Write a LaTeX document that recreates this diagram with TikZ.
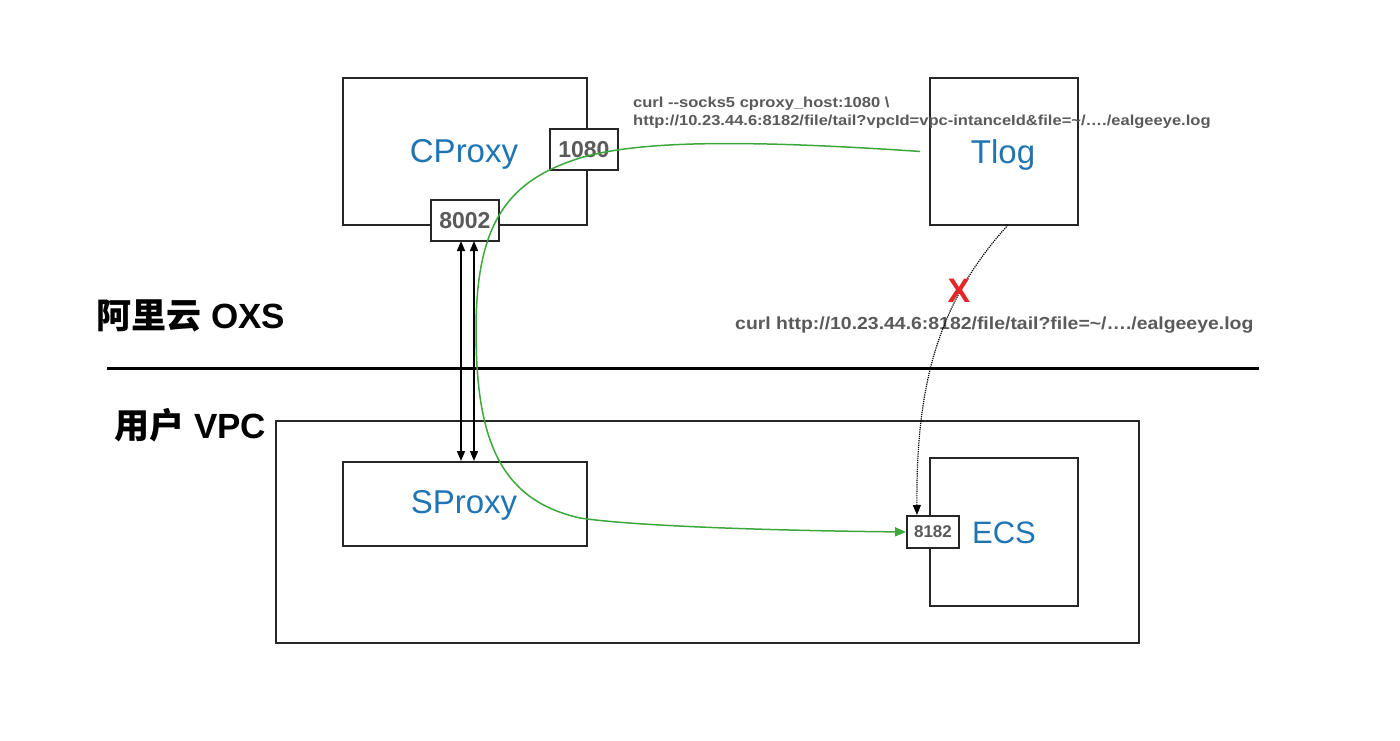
\documentclass[tikz,border=0pt]{standalone}
\usepackage{fontspec}
\setmainfont{Liberation Sans}
\newfontfamily\cjk{Noto Sans CJK SC}
\newfontfamily\cmdfonta{Liberation Sans}[FakeStretch=1.14]
\newfontfamily\cmdfontb{Liberation Sans}[FakeStretch=1.11]
\usetikzlibrary{arrows.meta}
\definecolor{lblblue}{HTML}{1F74B4}
\definecolor{txtgray}{HTML}{5A5A5A}
\definecolor{flowgreen}{HTML}{3CA83C}
\definecolor{xred}{HTML}{E32626}
\begin{document}
\begin{tikzpicture}[x=1pt,y=-1pt,
  >={Triangle[length=10pt,width=8pt]},
  boxstyle/.style={draw=black!85,line width=1.9pt,fill=none},
  portbox/.style={draw=black!85,line width=1.9pt,fill=white,inner sep=0pt},
  bluelbl/.style={text=lblblue,font=\fontsize{33}{33}\selectfont},
  porttxt/.style={text=txtgray,font=\bfseries\fontsize{23}{23}\selectfont},
  cmdtxt/.style={text=txtgray,font=\cmdfonta\bfseries\fontsize{14.5}{18}\selectfont,align=left},
  zonetxt/.style={font=\bfseries\fontsize{35}{35}\selectfont}
]
\useasboundingbox (0,0) rectangle (1400,741);

% main boxes
\node[boxstyle,minimum width=244pt,minimum height=147pt,anchor=north west] (cproxy) at (342,77) {};
\node[boxstyle,minimum width=148pt,minimum height=147pt,anchor=north west] (tlog) at (929,77) {};
\node[boxstyle,minimum width=863pt,minimum height=222pt,anchor=north west] (vpc) at (275,420) {};
\node[boxstyle,minimum width=244pt,minimum height=84pt,anchor=north west] (sproxy) at (342,461) {};
\node[boxstyle,minimum width=148pt,minimum height=148pt,anchor=north west] (ecs) at (929,457) {};

% labels
\node[bluelbl] (cproxyl) at (464,154) {CProxy};
\node[bluelbl] (tlogl) at (1003,155) {Tlog};
\node[bluelbl] (sproxyl) at (464,505) {SProxy};
\node[bluelbl,font=\fontsize{31}{31}\selectfont] (ecsl) at (1004,533) {ECS};

% ports
\node[portbox,minimum width=68pt,minimum height=41pt,anchor=north west] (p1080) at (549,128) {};
\node[porttxt] (p1080l) at (p1080.center) {1080};
\node[portbox,minimum width=68pt,minimum height=41pt,anchor=north west] (p8002) at (430,199) {};
\node[porttxt] (p8002l) at (p8002.center) {8002};
\node[portbox,minimum width=52pt,minimum height=32pt,anchor=north west] (p8182) at (906,515) {};
\node[porttxt,font=\bfseries\fontsize{17}{17}\selectfont] (p8182l) at (p8182.center) {8182};

% zone labels and divider
\node[zonetxt,anchor=west] (oxs) at (93,316) {{\cjk\bfseries 阿里云} OXS};
\node[zonetxt,anchor=west] (uvpc) at (111,425) {{\cjk\bfseries 用户} VPC};
\coordinate (divl) at (107,368);
\coordinate (divr) at (1259,368);
\draw[line width=3pt] (divl) -- (divr);

% commands
\node[cmdtxt,anchor=north west,inner sep=0pt] (cmd1) at (633,97) {curl -{}-socks5 cproxy\_host:1080 \textbackslash\\http://10.23.44.6:8182/file/tail?vpcId=vpc-intanceId\&file=\textasciitilde/\ldots./ealgeeye.log};
\node[cmdtxt,font=\cmdfontb\bfseries\fontsize{17.5}{17.5}\selectfont,anchor=west,inner sep=0pt] (cmd2) at (735,325) {curl http://10.23.44.6:8182/file/tail?file=\textasciitilde/\ldots./ealgeeye.log};

% double arrows between 8002 and SProxy
\coordinate (a1t) at (461,241);
\coordinate (a1b) at (461,461);
\coordinate (a2t) at (474,241);
\coordinate (a2b) at (474,461);
\draw[line width=1.4pt,<->] (a1t) -- (a1b);
\draw[line width=1.4pt,<->] (a2t) -- (a2b);

% green flow
\draw[flowgreen,line width=1.5pt,-{Triangle[length=11pt,width=9pt]}]
  ([xshift=-9pt]tlog.west) .. controls (750,140) and (640,140) .. (580,158)
  .. controls (510,180) and (476,220) .. (476,330)
  .. controls (476,440) and (500,500) .. (580,518)
  .. controls (640,527) and (800,531) .. (p8182.west);

% dotted blocked request
\coordinate (dotend) at ([xshift=-16pt]p8182.north);
\draw[densely dotted,line width=1.2pt,->]
  (1008,225) .. controls (940,300) and (916,380) .. (dotend);
\node[text=xred,font=\bfseries\fontsize{34}{34}\selectfont] (xmark) at (959,291) {X};

\end{tikzpicture}
\end{document}
